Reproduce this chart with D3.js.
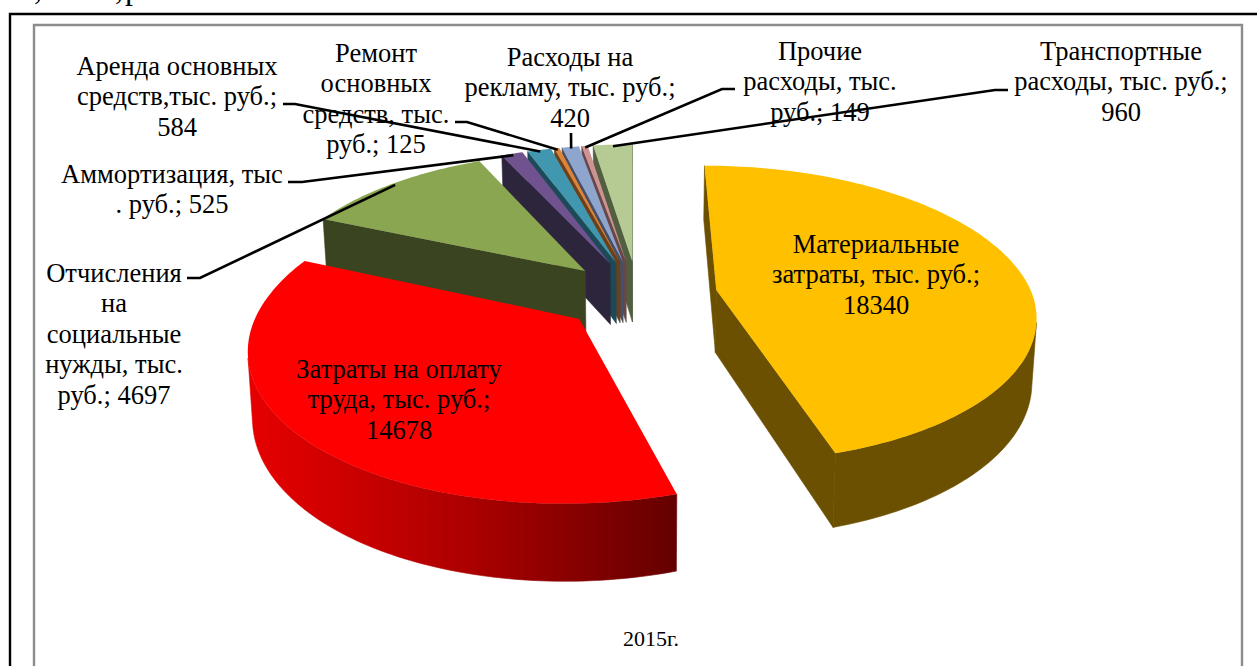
<!DOCTYPE html>
<html><head><meta charset="utf-8">
<script src="https://cdn.jsdelivr.net/npm/d3@7/dist/d3.min.js"></script>
<style>html,body{margin:0;padding:0;background:#fff;overflow:hidden}svg{display:block}
text{font-family:"Liberation Serif","Times New Roman",serif;fill:#000}</style>
</head><body><svg id="c" width="1257" height="666"></svg>
<script>
// Data
const sliceNames = ["Материальные затраты","Затраты на оплату труда","Отчисления на социальные нужды","Аммортизация","Аренда основных средств","Ремонт основных средств","Расходы на рекламу","Прочие расходы","Транспортные расходы"];
const sliceValues = [18340,14678,4697,525,584,125,420,149,960];
const topColors = ["#FFC000","#FF0000","#8AA650","#70528F","#4197AF","#DC8437","#8EA5CE","#CD9291","#B6CB94"];
const wallColors = ["#6A5000","#AA0000","#3A4420","#2D253C","#1C4A58","#6E4019","#474F66","#664849","#515F40"];
const chartTitle = "2015г.";
const labelLines = [
  ["Материальные","затраты, тыс. руб.;","18340"],
  ["Затраты на оплату","труда, тыс. руб.;","14678"],
  ["Отчисления","на","социальные","нужды, тыс.","руб.; 4697"],
  ["Аммортизация, тыс",". руб.; 525"],
  ["Аренда основных","средств,тыс. руб.;","584"],
  ["Ремонт","основных","средств, тыс.","руб.; 125"],
  ["Расходы на","рекламу, тыс. руб.;","420"],
  ["Прочие","расходы, тыс.","руб.; 149"],
  ["Транспортные","расходы, тыс. руб.;","960"]
];
// Layout of labels: [centre x, first baseline]
const labelPos = [[876,253],[399,378],[114,282],[172,183],[177,75],[376,62],[570,66],[820,60],[1121,60]];
// Leader elbows: [text end x, elbow x, y]; null = on-slice label
const leaderPos = [null,null,[187,200,278],[288,302,182],[283,295,104],[455,467,122],[571,571,133],[735,722,89],[1008,995,90]];

const svg = d3.select("#c");
// frames
svg.append("path").attr("d","M1257 14H10V666").attr("fill","none").attr("stroke","#000").attr("stroke-width",2.4);
svg.append("path").attr("d","M34 666V25H1242V666").attr("fill","none").attr("stroke","#8c8c8c").attr("stroke-width",2.4);
// clipped running text above the frame
[[34,","],[115,","],[125,"р"]].forEach(([x,t])=>svg.append("text").attr("x",x).attr("y",-1).attr("font-size",32).text(t));

// Perspective pie model
const cx=638, cy=295, Rx=316, Ry=146, k=0.1627, explode=0.24, depth=63;
function project(X,Z,h){
  const w=1+k*Z, ax=Z<0?3:-1;
  let sx=cx+(Rx*X+ax*Z)/w, sy=cy-Ry*Z/w;
  if(h){ sy+=depth/w; sx+=-0.012*(sx-640); }
  return [sx,sy];
}
const arcs = d3.pie().sort(null).value(d=>d)(sliceValues);
function geom(d){
  const mid=(d.startAngle+d.endAngle)/2, ox=explode*Math.sin(mid)*(mid<Math.PI?1.05:1), oz=explode*Math.cos(mid);
  const at=(a,r,h)=>project(ox+r*Math.sin(a),oz+r*Math.cos(a),h);
  const n=Math.max(2,Math.ceil((d.endAngle-d.startAngle)/0.02));
  const angs=d3.range(n+1).map(i=>d.startAngle+(d.endAngle-d.startAngle)*i/n);
  return {mid,at,angs};
}
const line=d3.line();
const defs=svg.append("defs");
const grad=defs.append("linearGradient").attr("id","redWall").attr("gradientUnits","userSpaceOnUse").attr("x1",250).attr("x2",678).attr("y1",0).attr("y2",0);
[[0,"#E60000"],[0.5,"#AD0000"],[1,"#640000"]].forEach(([o,c])=>grad.append("stop").attr("offset",o).attr("stop-color",c));
const drawOrder=[8,7,6,5,4,3,2,0,1];
const pie=svg.append("g");
drawOrder.forEach(i=>{
  const d=arcs[i], g=geom(d), wall=i===1?"url(#redWall)":wallColors[i], gg=pie.append("g");
  const fillPoly=p=>gg.append("path").attr("d",line(p)+"Z").attr("fill",wall).attr("stroke",wall).attr("stroke-width",0.6);
  const quad=p=>{ if(d3.polygonArea(p)>0) fillPoly(p); };
  const A=g.at(0,0,0),A2=g.at(0,0,1);
  const S=g.at(d.startAngle,1,0),S2=g.at(d.startAngle,1,1),E=g.at(d.endAngle,1,0),E2=g.at(d.endAngle,1,1);
  quad([A,S,S2,A2]); quad([E,A,A2,E2]);
  // the front-facing part of the rim as one shape
  const vis=d3.range(g.angs.length-1).filter(j=>{
    const a=g.angs[j],b=g.angs[j+1];
    return d3.polygonArea([g.at(a,1,0),g.at(b,1,0),g.at(b,1,1),g.at(a,1,1)])>0;
  });
  if(vis.length){
    const rim=g.angs.slice(vis[0],vis[vis.length-1]+2);
    fillPoly(rim.map(a=>g.at(a,1,0)).concat(rim.slice().reverse().map(a=>g.at(a,1,1))));
  }
  gg.append("path").attr("d",line([A].concat(g.angs.map(a=>g.at(a,1,0))))+"Z").attr("fill",topColors[i]);
});
// leaders
arcs.forEach((d,i)=>{
  const l=leaderPos[i]; if(!l) return;
  const end=geom(d).at(geom(d).mid,0.985,0);
  svg.append("path").attr("d",line([[l[0],l[2]],[l[1],l[2]],end])).attr("fill","none").attr("stroke","#000").attr("stroke-width",2.6);
});
// labels
labelLines.forEach((ls,i)=>{
  const t=svg.append("text").attr("text-anchor","middle").attr("font-size",26.5);
  ls.forEach((s,j)=>t.append("tspan").attr("x",labelPos[i][0]).attr("y",labelPos[i][1]+j*30.4).text(s));
});
svg.append("text").attr("x",651).attr("y",646).attr("text-anchor","middle").attr("font-size",22).text(chartTitle);
</script></body></html>
